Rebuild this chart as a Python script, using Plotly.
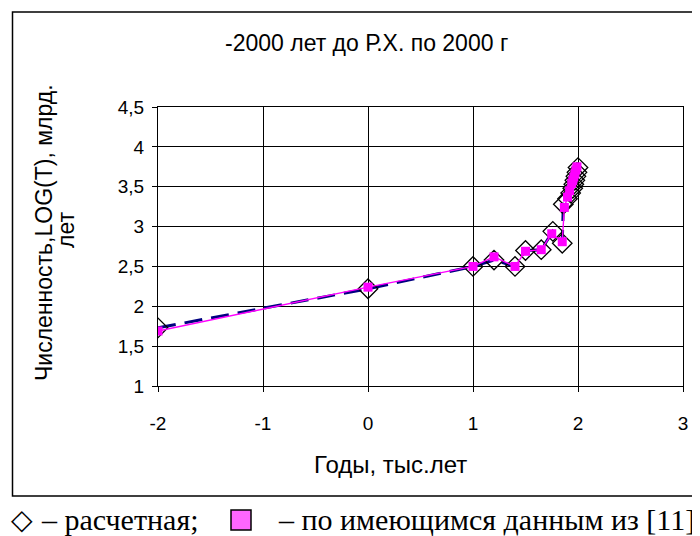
import plotly.graph_objects as go

# Data (years in thousands, LOG values)
years_calc = [-2, 0, 1, 1.2, 1.4, 1.5, 1.65, 1.76, 1.85, 1.86, 1.9, 1.93, 1.95, 1.96, 1.97, 1.98, 1.99, 2.0]
log_calc = [1.73, 2.22, 2.5, 2.58, 2.5, 2.7, 2.71, 2.94, 2.79, 3.28, 3.35, 3.42, 3.48, 3.53, 3.58, 3.63, 3.68, 3.74]

years_data = [-2, 0, 1, 1.2, 1.4, 1.5, 1.65, 1.75, 1.85, 1.87, 1.9, 1.92, 1.94, 1.95, 1.96, 1.97, 1.98, 1.99]
log_data = [1.69, 2.24, 2.5, 2.62, 2.5, 2.69, 2.71, 2.91, 2.81, 3.24, 3.37, 3.45, 3.54, 3.58, 3.62, 3.66, 3.71, 3.75]

x_ticks = [-2, -1, 0, 1, 2, 3]
x_tick_labels = ["-2", "-1", "0", "1", "2", "3"]
y_ticks = [1, 1.5, 2, 2.5, 3, 3.5, 4, 4.5]
y_tick_labels = ["1", "1,5", "2", "2,5", "3", "3,5", "4", "4,5"]

title_text = "-2000 лет до Р.Х. по 2000 г"
x_title = "Годы, тыс.лет"
y_title_1 = "Численность,LOG(T), млрд."
y_title_2 = "лет"
caption_calc = "– расчетная;"
caption_data = "– по имеющимся данным из [11]"

# The page body adds an 8px margin; lay out in screen pixels and offset.
OFF = 8
W, H = 700 - OFF, 536 - OFF
L, R, T, B = 158, 683, 107, 386          # plot area in screen pixels
pw, ph = R - L, B - T

def px(xs):
    return (xs - L) / pw

def py(ys):
    return (B - ys) / ph

SANS = "Liberation Sans, Arial, sans-serif"
SERIF = "Liberation Serif, Times New Roman, serif"

fig = go.Figure()
fig.add_trace(go.Scatter(
    x=years_calc, y=log_calc, mode="lines+markers",
    line=dict(color="#000080", width=3, dash="18px,9px"),
    marker=dict(symbol="diamond-open", size=15, color="black", line=dict(width=1.3, color="black")),
    showlegend=False,
))
fig.add_trace(go.Scatter(
    x=years_data, y=log_data, mode="lines+markers",
    line=dict(color="#FF00FF", width=1.4),
    marker=dict(symbol="square", size=9, color="#FF00FF", line=dict(width=0)),
    showlegend=False,
))

fig.update_layout(
    width=W, height=H,
    margin=dict(l=L - OFF, r=700 - R, t=T - OFF, b=536 - B, autoexpand=False),
    paper_bgcolor="white", plot_bgcolor="white",
    font=dict(family=SANS, size=19, color="black"),
    xaxis=dict(range=[-2, 3], tickvals=x_ticks, ticktext=x_tick_labels, automargin=False,
               showgrid=True, gridcolor="black", gridwidth=1,
               showline=True, linecolor="black", linewidth=1, mirror=True,
               ticks="outside", ticklen=5, tickcolor="black", ticklabelstandoff=15,
               zeroline=False, tickfont=dict(size=19)),
    yaxis=dict(range=[1, 4.5], tickvals=y_ticks, ticktext=y_tick_labels, automargin=False,
               showgrid=True, gridcolor="black", gridwidth=1,
               showline=True, linecolor="black", linewidth=1, mirror=True,
               ticks="outside", ticklen=5, tickcolor="black", ticklabelstandoff=4,
               zeroline=False, tickfont=dict(size=19)),
    shapes=[dict(type="rect", xref="paper", yref="paper",
                 x0=px(12.5), x1=px(703), y0=py(496), y1=py(12),
                 line=dict(color="black", width=1.5), layer="below")],
)

annotations = [
    dict(text=title_text, x=px(366), y=py(43), xanchor="center", yanchor="middle",
         font=dict(size=23, family=SANS)),
    dict(text=x_title, x=px(390), y=py(465), xanchor="center", yanchor="middle",
         font=dict(size=24, family=SANS)),
    dict(text=y_title_1, x=px(44), y=py(233), xanchor="center", yanchor="middle",
         textangle=-90, font=dict(size=23, family=SANS)),
    dict(text=y_title_2, x=px(66), y=py(230), xanchor="center", yanchor="middle",
         textangle=-90, font=dict(size=23, family=SANS)),
    dict(text="◇", x=px(22), y=py(520), xanchor="center", yanchor="middle",
         font=dict(size=28, family="DejaVu Sans")),
    dict(text=caption_calc, x=px(39), y=py(519), xanchor="left", yanchor="middle",
         font=dict(size=30, family=SERIF)),
    dict(text=caption_data, x=px(276), y=py(519), xanchor="left", yanchor="middle",
         font=dict(size=30, family=SERIF)),
]
for a in annotations:
    a.update(xref="paper", yref="paper", showarrow=False)
fig.update_layout(annotations=annotations)
fig.add_shape(type="rect", xref="paper", yref="paper",
              x0=px(231), x1=px(251), y0=py(530), y1=py(510),
              fillcolor="#FF66FF", line=dict(color="black", width=1.5))

fig.write_html("out.html")
